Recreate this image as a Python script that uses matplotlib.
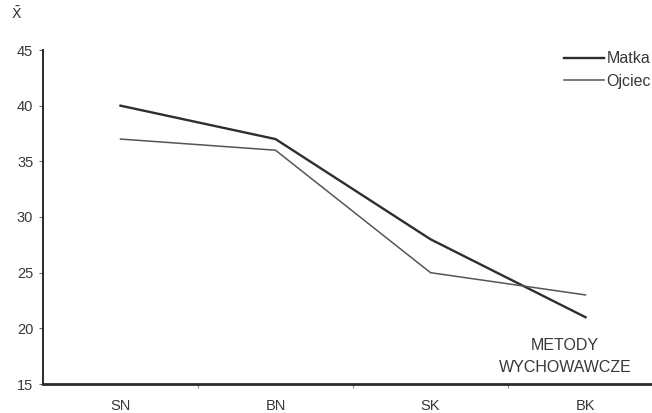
import matplotlib
matplotlib.use("Agg")
import matplotlib.pyplot as plt

plt.rcParams['font.family'] = ['Liberation Sans', 'DejaVu Sans']

metody = ['SN', 'BN', 'SK', 'BK']
matka = [40, 37, 28, 21]
ojciec = [37, 36, 25, 23]
y_ticks = [15, 20, 25, 30, 35, 40, 45]

fig = plt.figure(figsize=(6.52, 4.13), dpi=100)
# axis runs a bit past the right edge of the picture, like the scan
ax = fig.add_axes([43/652, 29/413, 620/652, 334/413])

x = list(range(len(metody)))
ax.plot(x, matka, color='#2e2e2e', lw=1.7, label='Matka')
ax.plot(x, ojciec, color='#555555', lw=1.1, label='Ojciec')

ax.set_xlim(-0.5, len(metody) - 0.5)
ax.set_ylim(15, 45)
ax.set_yticks(y_ticks)
ax.set_xticks(x)
ax.set_xticklabels(metody)
ax.set_xticks([0.5, 1.5, 2.5], minor=True)

for s in ['top', 'right']:
    ax.spines[s].set_visible(False)
ax.spines['left'].set_color('#2a2a2a')
ax.spines['left'].set_linewidth(1.4)
ax.spines['bottom'].set_color('#2a2a2a')
ax.spines['bottom'].set_linewidth(2.0)

ax.tick_params(axis='y', length=3, width=0.8, color='#666666', labelsize=10.5,
               labelcolor='#383838', pad=4)
ax.tick_params(axis='x', which='major', length=0, labelsize=10.5,
               labelcolor='#383838', pad=11)
ax.tick_params(axis='x', which='minor', length=3, width=0.8, color='#888888',
               direction='out')

fig.text(11/652, 1 - 14/413, r'$\bar{\mathrm{X}}$', fontsize=10, color='#383838',
         ha='left', va='center')
fig.text(565/652, 1 - 345/413, 'METODY', fontsize=11.5, color='#383838',
         ha='center', va='center')
fig.text(565/652, 1 - 368/413, 'WYCHOWAWCZE', fontsize=11.5, color='#383838',
         ha='center', va='center')

fig.legend(loc='upper left', bbox_to_anchor=(550/652, 1 - 37/413),
           frameon=False, fontsize=11.5, handlelength=2.5, handletextpad=0.15,
           labelspacing=0.45, labelcolor='#383838')

fig.savefig('out.png', dpi=100, facecolor='white')
